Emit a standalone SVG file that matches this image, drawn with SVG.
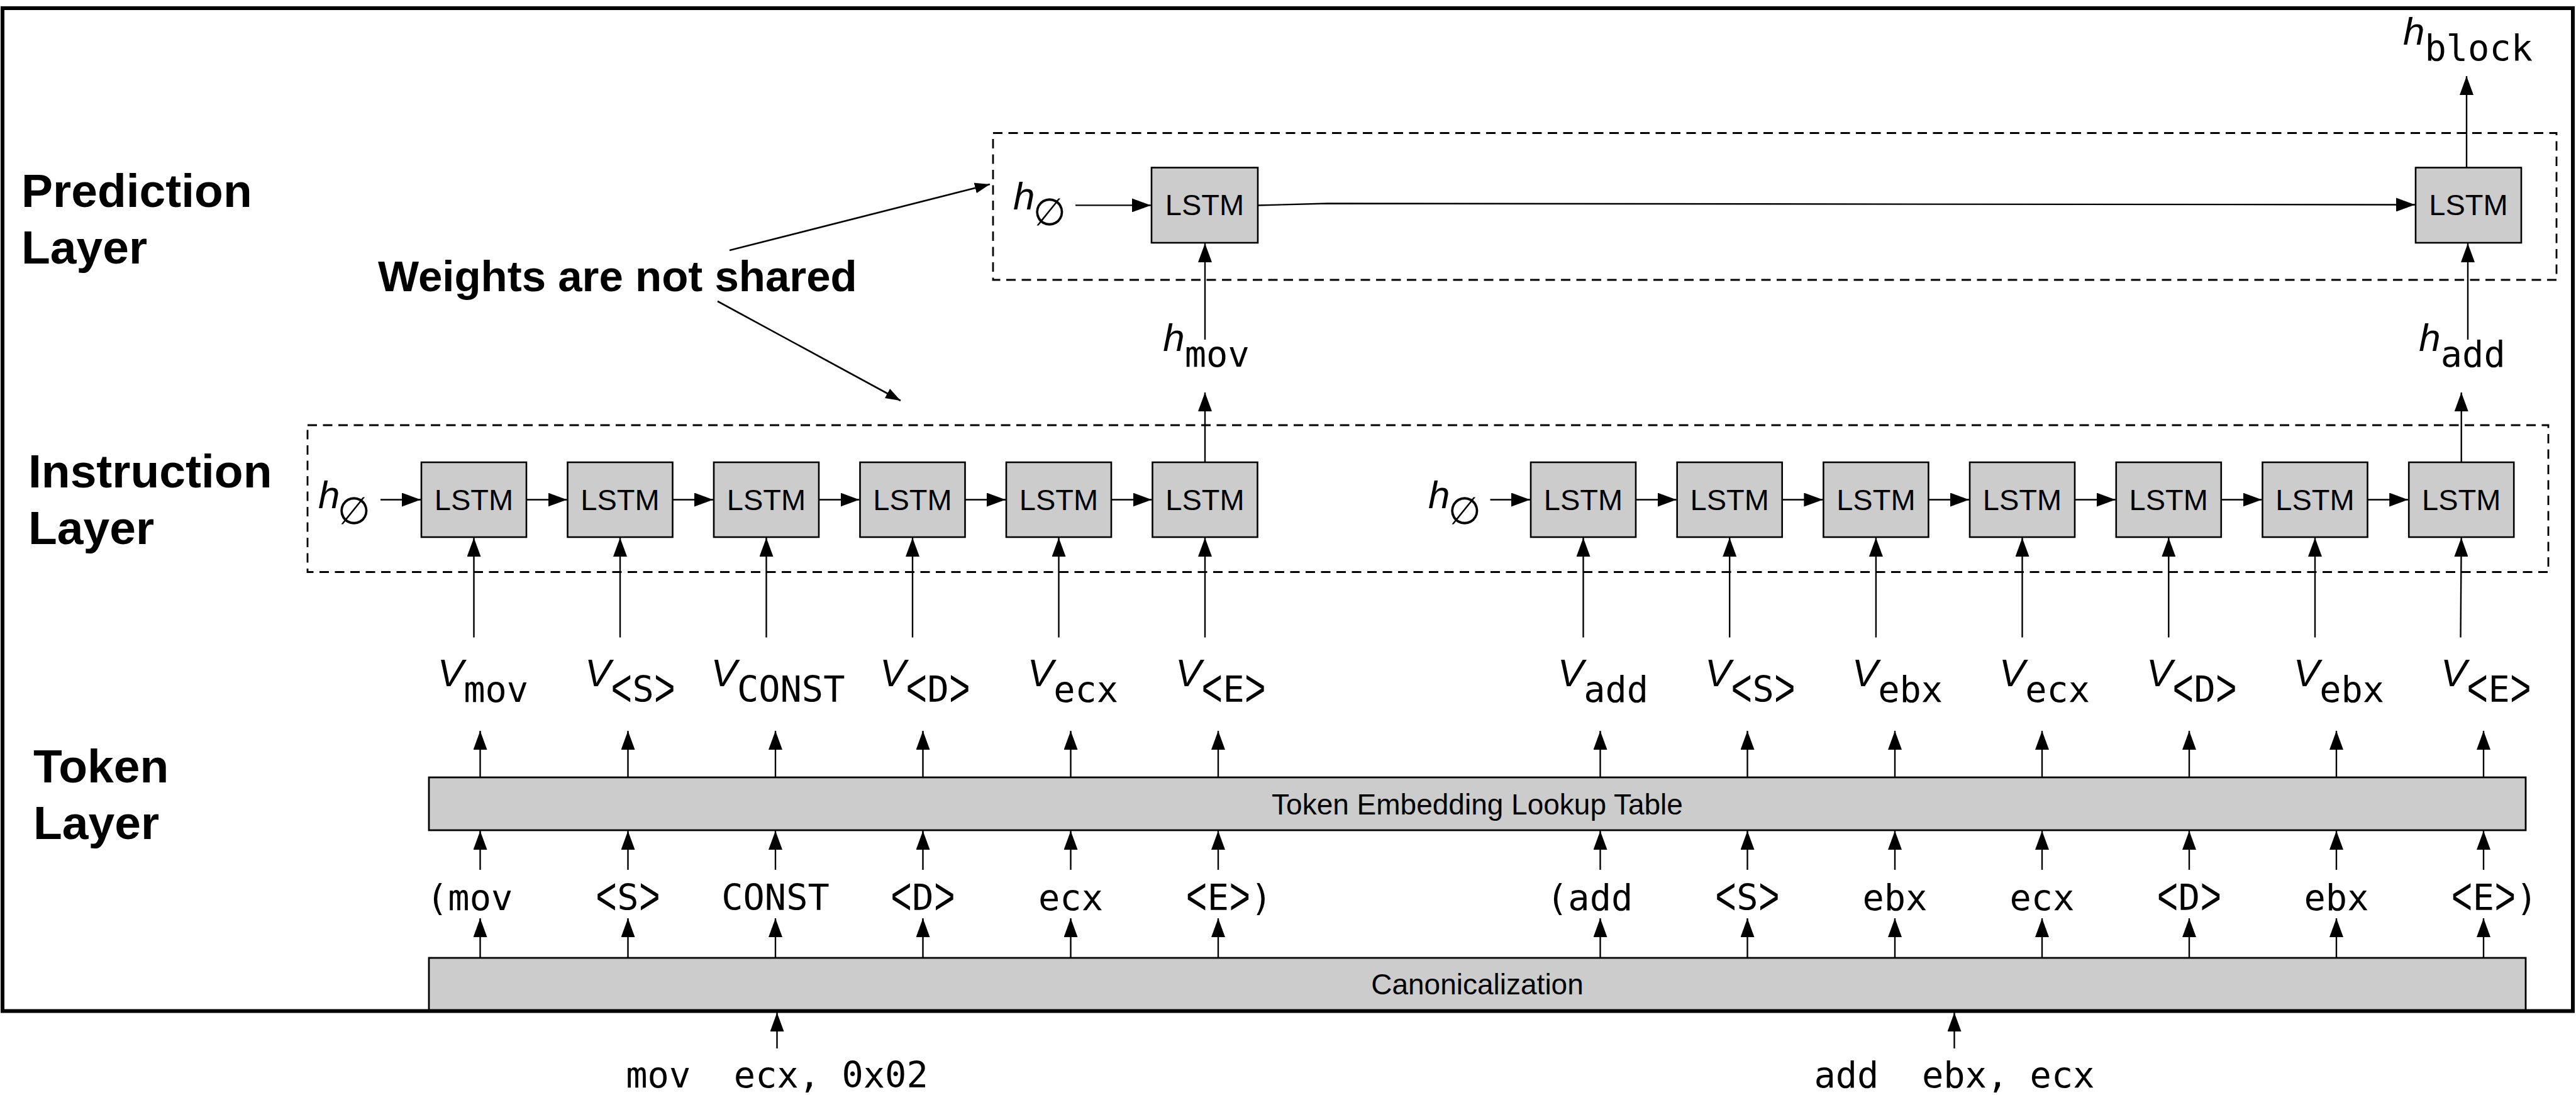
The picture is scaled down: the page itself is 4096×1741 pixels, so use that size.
<svg xmlns="http://www.w3.org/2000/svg" width="4096" height="1741" viewBox="0 0 4096 1741">
  <style>
    .bg { fill: #ffffff; }
    .frame { fill: none; stroke: #000; stroke-width: 6; }
    .dash { fill: none; stroke: #000; stroke-width: 2.8; stroke-dasharray: 15 9.5; }
    .box { fill: #cccccc; stroke: #000; stroke-width: 2.6; }
    .bar { fill: #cccccc; stroke: #000; stroke-width: 2.8; }
    .wire { fill: none; stroke: #000; stroke-width: 2.4; marker-end: url(#ah); }
    .wire-s { fill: none; stroke: #000; stroke-width: 2.6; marker-end: url(#ahs); }
    .layer { font-family: "Liberation Sans", Arial, Helvetica, sans-serif; font-weight: bold; font-size: 75px; fill: #000; }
    .note { font-family: "Liberation Sans", Arial, Helvetica, sans-serif; font-weight: bold; font-size: 69px; fill: #000; }
    .lbl { font-family: "Liberation Sans", Arial, Helvetica, sans-serif; font-size: 47px; fill: #000; text-anchor: middle; }
    .barlbl { font-family: "Liberation Sans", Arial, Helvetica, sans-serif; font-size: 46px; fill: #000; text-anchor: middle; }
    .it { font-family: "Liberation Sans", Arial, Helvetica, sans-serif; font-style: italic; font-size: 62px; fill: #000; }
    .mono { font-family: "DejaVu Sans Mono", "Liberation Mono", monospace; font-size: 57px; font-style: normal; fill: #000; }
    .br { font-family: "Liberation Mono", "DejaVu Sans Mono", monospace; font-size: 57px; fill: #000; }
    .sym { font-family: "DejaVu Sans ExtraLight", "DejaVu Sans", sans-serif; font-size: 60px; text-anchor: middle; fill: #000; }
    .tok { font-family: "DejaVu Sans Mono", "Liberation Mono", monospace; font-size: 57px; fill: #000; }
    .mid { text-anchor: middle; }
  </style>
  <defs>
    <marker id="ah" markerUnits="userSpaceOnUse" viewBox="0 0 30 22" markerWidth="30" markerHeight="22" refX="30" refY="11" orient="auto">
      <path d="M0,0 L30,11 L0,22 Z" fill="#000"/>
    </marker>
    <marker id="ahs" markerUnits="userSpaceOnUse" viewBox="0 0 24 17" markerWidth="24" markerHeight="17" refX="24" refY="8.5" orient="auto">
      <path d="M0,0 L24,8.5 L0,17 Z" fill="#000"/>
    </marker>
  </defs>

  <rect class="bg" x="0" y="0" width="4096" height="1741"/>

  <!-- layer captions -->
  <g id="caption-prediction">
    <text class="layer" x="34" y="329">Prediction</text>
    <text class="layer" x="34" y="419">Layer</text>
  </g>
  <g id="caption-instruction">
    <text class="layer" x="45" y="775">Instruction</text>
    <text class="layer" x="45" y="865">Layer</text>
  </g>
  <g id="caption-token">
    <text class="layer" x="53" y="1244">Token</text>
    <text class="layer" x="53" y="1334">Layer</text>
  </g>
  <g id="note-weights">
    <text class="note" x="601" y="463">Weights are not shared</text>
  </g>

  <!-- dashed layer containers -->
  <g id="prediction-layer">
    <rect class="dash" x="1579" y="211.5" width="2486" height="233.5"/>
  </g>
  <g id="instruction-layer">
    <rect class="dash" x="489" y="676" width="3563" height="233.5"/>
  </g>

  <!-- prediction LSTMs -->
  <g id="pred-h0">
    <text class="it" x="1611" y="333">h</text>
    <text class="sym" x="1669" y="358">∅</text>
  </g>
  <g id="pred-lstm-1"><rect class="box" x="1831" y="266.5" width="169" height="119.5"/><text class="lbl" x="1915.5" y="342">LSTM</text></g>
  <g id="pred-lstm-2"><rect class="box" x="3841" y="266.5" width="168" height="119.5"/><text class="lbl" x="3925" y="342">LSTM</text></g>
  <g id="h-block"><text class="mid" x="3924" y="71"><tspan class="it">h</tspan><tspan class="mono" dy="25">block</tspan></text></g>
  <g id="h-mov"><text class="mid" x="1918" y="557.5"><tspan class="it">h</tspan><tspan class="mono" dy="25">mov</tspan></text></g>
  <g id="h-add"><text class="mid" x="3915" y="557.5"><tspan class="it">h</tspan><tspan class="mono" dy="25">add</tspan></text></g>

  <!-- instruction LSTMs, first instruction -->
  <g id="instr1-h0">
    <text class="it" x="506" y="808">h</text>
    <text class="sym" x="563" y="833">∅</text>
  </g>
  <g id="instr1-lstm-1"><rect class="box" x="670" y="735" width="167" height="119"/><text class="lbl" x="753.5" y="811">LSTM</text></g>
  <g id="instr1-lstm-2"><rect class="box" x="902.5" y="735" width="167" height="119"/><text class="lbl" x="986" y="811">LSTM</text></g>
  <g id="instr1-lstm-3"><rect class="box" x="1135" y="735" width="167" height="119"/><text class="lbl" x="1218.5" y="811">LSTM</text></g>
  <g id="instr1-lstm-4"><rect class="box" x="1367.5" y="735" width="167" height="119"/><text class="lbl" x="1451" y="811">LSTM</text></g>
  <g id="instr1-lstm-5"><rect class="box" x="1600" y="735" width="167" height="119"/><text class="lbl" x="1683.5" y="811">LSTM</text></g>
  <g id="instr1-lstm-6"><rect class="box" x="1832.5" y="735" width="167" height="119"/><text class="lbl" x="1916" y="811">LSTM</text></g>

  <!-- instruction LSTMs, second instruction -->
  <g id="instr2-h0">
    <text class="it" x="2271" y="808">h</text>
    <text class="sym" x="2329" y="833">∅</text>
  </g>
  <g id="instr2-lstm-1"><rect class="box" x="2434" y="735" width="167" height="119"/><text class="lbl" x="2517.5" y="811">LSTM</text></g>
  <g id="instr2-lstm-2"><rect class="box" x="2666.7" y="735" width="167" height="119"/><text class="lbl" x="2750.2" y="811">LSTM</text></g>
  <g id="instr2-lstm-3"><rect class="box" x="2899.4" y="735" width="167" height="119"/><text class="lbl" x="2982.9" y="811">LSTM</text></g>
  <g id="instr2-lstm-4"><rect class="box" x="3132" y="735" width="167" height="119"/><text class="lbl" x="3215.5" y="811">LSTM</text></g>
  <g id="instr2-lstm-5"><rect class="box" x="3364.8" y="735" width="167" height="119"/><text class="lbl" x="3448.3" y="811">LSTM</text></g>
  <g id="instr2-lstm-6"><rect class="box" x="3597.5" y="735" width="167" height="119"/><text class="lbl" x="3681" y="811">LSTM</text></g>
  <g id="instr2-lstm-7"><rect class="box" x="3830.2" y="735" width="167" height="119"/><text class="lbl" x="3913.7" y="811">LSTM</text></g>

  <!-- token embedding vectors; angle brackets are stretched thin glyphs -->
  <g id="vectors">
    <text class="mid" x="768" y="1091"><tspan class="it">V</tspan><tspan class="mono" dy="25">mov</tspan></text>
    <text class="it" x="929.9" y="1091">V</text><text class="mono" x="1005.5" y="1116">S</text>
    <text class="br" transform="translate(971.2,1123) scale(1,1.5)">&lt;</text><text class="br" transform="translate(1039.8,1123) scale(1,1.5)">&gt;</text>
    <text class="mid" x="1237" y="1091"><tspan class="it">V</tspan><tspan class="mono" dy="25">CONST</tspan></text>
    <text class="it" x="1398.9" y="1091">V</text><text class="mono" x="1474.5" y="1116">D</text>
    <text class="br" transform="translate(1440.2,1123) scale(1,1.5)">&lt;</text><text class="br" transform="translate(1508.8,1123) scale(1,1.5)">&gt;</text>
    <text class="mid" x="1706" y="1091"><tspan class="it">V</tspan><tspan class="mono" dy="25">ecx</tspan></text>
    <text class="it" x="1868.9" y="1091">V</text><text class="mono" x="1944.5" y="1116">E</text>
    <text class="br" transform="translate(1910.2,1123) scale(1,1.5)">&lt;</text><text class="br" transform="translate(1978.8,1123) scale(1,1.5)">&gt;</text>

    <text class="mid" x="2549" y="1091"><tspan class="it">V</tspan><tspan class="mono" dy="25">add</tspan></text>
    <text class="it" x="2710.9" y="1091">V</text><text class="mono" x="2786.5" y="1116">S</text>
    <text class="br" transform="translate(2752.2,1123) scale(1,1.5)">&lt;</text><text class="br" transform="translate(2820.8,1123) scale(1,1.5)">&gt;</text>
    <text class="mid" x="3017" y="1091"><tspan class="it">V</tspan><tspan class="mono" dy="25">ebx</tspan></text>
    <text class="mid" x="3251" y="1091"><tspan class="it">V</tspan><tspan class="mono" dy="25">ecx</tspan></text>
    <text class="it" x="3412.9" y="1091">V</text><text class="mono" x="3488.5" y="1116">D</text>
    <text class="br" transform="translate(3454.2,1123) scale(1,1.5)">&lt;</text><text class="br" transform="translate(3522.8,1123) scale(1,1.5)">&gt;</text>
    <text class="mid" x="3719" y="1091"><tspan class="it">V</tspan><tspan class="mono" dy="25">ebx</tspan></text>
    <text class="it" x="3880.9" y="1091">V</text><text class="mono" x="3956.5" y="1116">E</text>
    <text class="br" transform="translate(3922.2,1123) scale(1,1.5)">&lt;</text><text class="br" transform="translate(3990.8,1123) scale(1,1.5)">&gt;</text>
  </g>

  <!-- token layer bars -->
  <g id="embedding-table">
    <rect class="bar" x="682" y="1236" width="3334" height="84"/>
    <text class="barlbl" x="2349" y="1295">Token Embedding Lookup Table</text>
  </g>
  <g id="canonicalization">
    <rect class="bar" x="682" y="1523" width="3334" height="84.5"/>
    <text class="barlbl" x="2349" y="1581">Canonicalization</text>
  </g>

  <!-- canonical tokens -->
  <g id="tokens" class="tok">
    <text x="678" y="1447">(mov</text>
    <text x="981.3" y="1447">S</text>
    <text class="br" transform="translate(947,1454) scale(1,1.5)">&lt;</text><text class="br" transform="translate(1015.7,1454) scale(1,1.5)">&gt;</text>
    <text class="mid" x="1233" y="1447">CONST</text>
    <text x="1450.3" y="1447">D</text>
    <text class="br" transform="translate(1416,1454) scale(1,1.5)">&lt;</text><text class="br" transform="translate(1484.7,1454) scale(1,1.5)">&gt;</text>
    <text class="mid" x="1702.5" y="1447">ecx</text>
    <text x="1919.8" y="1447">E</text><text x="1988.5" y="1447">)</text>
    <text class="br" transform="translate(1885.5,1454) scale(1,1.5)">&lt;</text><text class="br" transform="translate(1954.2,1454) scale(1,1.5)">&gt;</text>

    <text x="2459" y="1447">(add</text>
    <text x="2761.3" y="1447">S</text>
    <text class="br" transform="translate(2727,1454) scale(1,1.5)">&lt;</text><text class="br" transform="translate(2795.7,1454) scale(1,1.5)">&gt;</text>
    <text class="mid" x="3013" y="1447">ebx</text>
    <text class="mid" x="3247" y="1447">ecx</text>
    <text x="3463.8" y="1447">D</text>
    <text class="br" transform="translate(3429.5,1454) scale(1,1.5)">&lt;</text><text class="br" transform="translate(3498.2,1454) scale(1,1.5)">&gt;</text>
    <text class="mid" x="3715" y="1447">ebx</text>
    <text x="3931.8" y="1447">E</text><text x="4000.5" y="1447">)</text>
    <text class="br" transform="translate(3897.5,1454) scale(1,1.5)">&lt;</text><text class="br" transform="translate(3966.2,1454) scale(1,1.5)">&gt;</text>
  </g>

  <!-- raw instructions -->
  <g id="asm-1"><text class="tok mid" x="1235.5" y="1729" xml:space="preserve">mov  ecx, 0x02</text></g>
  <g id="asm-2"><text class="tok mid" x="3107.5" y="1729" xml:space="preserve">add  ebx, ecx</text></g>

  <!-- connectors -->
  <g id="connectors">
    <!-- annotation arrows -->
    <line class="wire-s" x1="1160" y1="398" x2="1574" y2="293"/>
    <line class="wire-s" x1="1141" y1="479" x2="1432" y2="637"/>

    <!-- prediction layer -->
    <line class="wire" x1="1710" y1="326.4" x2="1830" y2="326.4"/>
    <path class="wire" d="M2000,326.5 L2111,323.5 L3840,325.5"/>
    <line class="wire" x1="3922" y1="266.5" x2="3922" y2="121"/>
    <line class="wire" x1="1916" y1="540" x2="1916" y2="387"/>
    <line class="wire" x1="3924" y1="540" x2="3924" y2="387"/>
    <line class="wire" x1="1916" y1="735" x2="1916" y2="624"/>
    <line class="wire" x1="3913.7" y1="735" x2="3913.7" y2="624"/>

    <!-- instruction chains -->
    <line class="wire" x1="605" y1="794.5" x2="669" y2="794.5"/>
    <line class="wire" x1="837" y1="794.5" x2="901.5" y2="794.5"/>
    <line class="wire" x1="1069.5" y1="794.5" x2="1134" y2="794.5"/>
    <line class="wire" x1="1302" y1="794.5" x2="1366.5" y2="794.5"/>
    <line class="wire" x1="1534.5" y1="794.5" x2="1599" y2="794.5"/>
    <line class="wire" x1="1767" y1="794.5" x2="1831.5" y2="794.5"/>

    <line class="wire" x1="2369.5" y1="794.5" x2="2433" y2="794.5"/>
    <line class="wire" x1="2601" y1="794.5" x2="2665.7" y2="794.5"/>
    <line class="wire" x1="2833.7" y1="794.5" x2="2898.4" y2="794.5"/>
    <line class="wire" x1="3066.4" y1="794.5" x2="3131" y2="794.5"/>
    <line class="wire" x1="3299" y1="794.5" x2="3363.8" y2="794.5"/>
    <line class="wire" x1="3531.8" y1="794.5" x2="3596.5" y2="794.5"/>
    <line class="wire" x1="3764.5" y1="794.5" x2="3829.2" y2="794.5"/>

    <!-- vectors into LSTMs -->
    <line class="wire" x1="753.5" y1="1013.5" x2="753.5" y2="855"/>
    <line class="wire" x1="986" y1="1013.5" x2="986" y2="855"/>
    <line class="wire" x1="1218.5" y1="1013.5" x2="1218.5" y2="855"/>
    <line class="wire" x1="1451" y1="1013.5" x2="1451" y2="855"/>
    <line class="wire" x1="1683.5" y1="1013.5" x2="1683.5" y2="855"/>
    <line class="wire" x1="1916" y1="1013.5" x2="1916" y2="855"/>
    <line class="wire" x1="2517.5" y1="1013.5" x2="2517.5" y2="855"/>
    <line class="wire" x1="2750.2" y1="1013.5" x2="2750.2" y2="855"/>
    <line class="wire" x1="2982.9" y1="1013.5" x2="2982.9" y2="855"/>
    <line class="wire" x1="3215.5" y1="1013.5" x2="3215.5" y2="855"/>
    <line class="wire" x1="3448.3" y1="1013.5" x2="3448.3" y2="855"/>
    <line class="wire" x1="3681" y1="1013.5" x2="3681" y2="855"/>
    <line class="wire" x1="3912.5" y1="1013.5" x2="3913.7" y2="855"/>

    <!-- embedding table outputs -->
    <line class="wire" x1="763.5" y1="1236" x2="763.5" y2="1162"/>
    <line class="wire" x1="998.5" y1="1236" x2="998.5" y2="1162"/>
    <line class="wire" x1="1233" y1="1236" x2="1233" y2="1162"/>
    <line class="wire" x1="1467.5" y1="1236" x2="1467.5" y2="1162"/>
    <line class="wire" x1="1702.5" y1="1236" x2="1702.5" y2="1162"/>
    <line class="wire" x1="1937" y1="1236" x2="1937" y2="1162"/>
    <line class="wire" x1="2544.5" y1="1236" x2="2544.5" y2="1162"/>
    <line class="wire" x1="2778.5" y1="1236" x2="2778.5" y2="1162"/>
    <line class="wire" x1="3013" y1="1236" x2="3013" y2="1162"/>
    <line class="wire" x1="3247" y1="1236" x2="3247" y2="1162"/>
    <line class="wire" x1="3481" y1="1236" x2="3481" y2="1162"/>
    <line class="wire" x1="3715" y1="1236" x2="3715" y2="1162"/>
    <line class="wire" x1="3949" y1="1236" x2="3949" y2="1162"/>

    <!-- tokens into embedding table -->
    <line class="wire" x1="763.5" y1="1383" x2="763.5" y2="1321"/>
    <line class="wire" x1="998.5" y1="1383" x2="998.5" y2="1321"/>
    <line class="wire" x1="1233" y1="1383" x2="1233" y2="1321"/>
    <line class="wire" x1="1467.5" y1="1383" x2="1467.5" y2="1321"/>
    <line class="wire" x1="1702.5" y1="1383" x2="1702.5" y2="1321"/>
    <line class="wire" x1="1937" y1="1383" x2="1937" y2="1321"/>
    <line class="wire" x1="2544.5" y1="1383" x2="2544.5" y2="1321"/>
    <line class="wire" x1="2778.5" y1="1383" x2="2778.5" y2="1321"/>
    <line class="wire" x1="3013" y1="1383" x2="3013" y2="1321"/>
    <line class="wire" x1="3247" y1="1383" x2="3247" y2="1321"/>
    <line class="wire" x1="3481" y1="1383" x2="3481" y2="1321"/>
    <line class="wire" x1="3715" y1="1383" x2="3715" y2="1321"/>
    <line class="wire" x1="3949" y1="1383" x2="3949" y2="1321"/>

    <!-- canonicalization outputs -->
    <line class="wire" x1="763.5" y1="1523" x2="763.5" y2="1460"/>
    <line class="wire" x1="998.5" y1="1523" x2="998.5" y2="1460"/>
    <line class="wire" x1="1233" y1="1523" x2="1233" y2="1460"/>
    <line class="wire" x1="1467.5" y1="1523" x2="1467.5" y2="1460"/>
    <line class="wire" x1="1702.5" y1="1523" x2="1702.5" y2="1460"/>
    <line class="wire" x1="1937" y1="1523" x2="1937" y2="1460"/>
    <line class="wire" x1="2544.5" y1="1523" x2="2544.5" y2="1460"/>
    <line class="wire" x1="2778.5" y1="1523" x2="2778.5" y2="1460"/>
    <line class="wire" x1="3013" y1="1523" x2="3013" y2="1460"/>
    <line class="wire" x1="3247" y1="1523" x2="3247" y2="1460"/>
    <line class="wire" x1="3481" y1="1523" x2="3481" y2="1460"/>
    <line class="wire" x1="3715" y1="1523" x2="3715" y2="1460"/>
    <line class="wire" x1="3949" y1="1523" x2="3949" y2="1460"/>

    <!-- raw instructions into canonicalization -->
    <line class="wire" x1="1235.5" y1="1667" x2="1235.5" y2="1610"/>
    <line class="wire" x1="3107.5" y1="1667" x2="3107.5" y2="1610"/>
  </g>

  <!-- outer border -->
  <rect id="border" class="frame" x="4" y="13" width="4087" height="1594.5"/>
</svg>
